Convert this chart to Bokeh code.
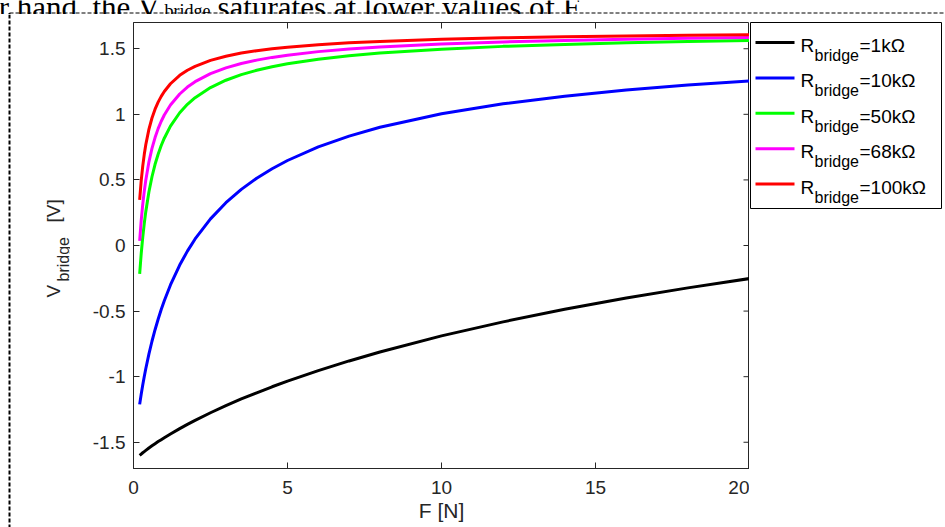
import math
from bokeh.plotting import figure
from bokeh.models import Range1d, FixedTicker, NumeralTickFormatter
from bokeh.layouts import row, column
from bokeh.embed import file_html
from bokeh.resources import INLINE
from bokeh.core.properties import value

# ---------------- data ----------------
force_N = [0.2, 0.25, 0.3, 0.35, 0.4, 0.5, 0.6, 0.7, 0.8, 0.9,
           1, 1.2, 1.5, 1.75, 2, 2.5, 3, 3.5, 4, 4.5,
           5, 6, 7, 8, 10, 12, 14, 16, 18, 20]
v_1k = [-1.600, -1.590, -1.580, -1.571, -1.562, -1.544, -1.527, -1.511, -1.495, -1.480,
        -1.465, -1.437, -1.396, -1.364, -1.333, -1.275, -1.221, -1.170, -1.123, -1.077,
        -1.034, -0.954, -0.880, -0.812, -0.689, -0.582, -0.486, -0.400, -0.323, -0.252]
v_10k = [-1.211, -1.134, -1.064, -0.999, -0.938, -0.828, -0.730, -0.642, -0.562, -0.488,
         -0.421, -0.301, -0.149, -0.043, 0.050, 0.203, 0.326, 0.428, 0.513, 0.585,
         0.648, 0.752, 0.834, 0.901, 1.004, 1.080, 1.138, 1.185, 1.223, 1.255]
v_50k = [-0.217, -0.063, 0.063, 0.169, 0.260, 0.408, 0.524, 0.619, 0.696, 0.762,
         0.818, 0.910, 1.012, 1.076, 1.127, 1.204, 1.260, 1.303, 1.336, 1.363,
         1.385, 1.420, 1.446, 1.467, 1.497, 1.518, 1.533, 1.545, 1.555, 1.563]
v_68k = [0.036, 0.190, 0.313, 0.414, 0.500, 0.636, 0.740, 0.823, 0.891, 0.947,
         0.995, 1.071, 1.155, 1.208, 1.249, 1.310, 1.354, 1.387, 1.413, 1.434,
         1.451, 1.478, 1.498, 1.513, 1.536, 1.552, 1.563, 1.572, 1.579, 1.585]
v_100k = [0.348, 0.493, 0.605, 0.695, 0.770, 0.885, 0.972, 1.039, 1.093, 1.137,
          1.174, 1.233, 1.297, 1.336, 1.366, 1.411, 1.443, 1.467, 1.485, 1.500,
          1.512, 1.531, 1.545, 1.556, 1.572, 1.583, 1.591, 1.597, 1.602, 1.606]

series = [v_1k, v_10k, v_50k, v_68k, v_100k]
legend_values = ["=1k\u03a9", "=10k\u03a9", "=50k\u03a9", "=68k\u03a9", "=100k\u03a9"]
colors = ["#000000", "#0000FF", "#00FF00", "#FF00FF", "#FF0000"]

x_ticks = [0, 5, 10, 15, 20]
y_ticks = [-1.5, -1, -0.5, 0, 0.5, 1, 1.5]
x_min, x_max = 0, 20
y_min, y_max = -1.7, 1.7

caption_parts = ["er hand, the V", "bridge", "saturates at lower values of F."]

# ---------------- layout constants (pixels) ----------------
FONT = "Liberation Sans"
SERIF = "Liberation Serif"
AX = "#262626"
PAGE_W, PAGE_H = 945, 527
STRIP_H = 14
BODY_H = PAGE_H - STRIP_H
YLAB_W = 70
FRAME_W, FRAME_H = 616, 446
LEFT = 63
TOP = 8
TICK = 6


def bare(fig):
    fig.grid.visible = False
    fig.outline_line_color = None
    fig.border_fill_color = "white"
    fig.background_fill_color = "white"
    return fig


# ---- top strip: caption remnant + dashed page frame ----
strip = bare(figure(width=PAGE_W, height=STRIP_H, x_range=Range1d(0, PAGE_W),
                    y_range=Range1d(STRIP_H, 0), min_border=0,
                    x_axis_location=None, y_axis_location=None, frame_align=False,
                    output_backend="svg", toolbar_location=None))
strip.text(x=[160], y=[7], text=[caption_parts[0]], text_font=value(SERIF),
           text_font_size="31px", text_align="right", text_baseline="alphabetic",
           text_color="black")
strip.text(x=[164], y=[10], text=[caption_parts[1]], text_font=value(SERIF),
           text_font_size="18px", text_align="left", text_baseline="alphabetic",
           text_color="black")
strip.text(x=[217], y=[7], text=[caption_parts[2]], text_font=value(SERIF),
           text_font_size="31px", text_align="left", text_baseline="alphabetic",
           text_color="black")
strip.segment(x0=[9], y0=[12.5], x1=[PAGE_W], y1=[12.5], line_color="black",
              line_width=1, line_dash="4 2")
strip.segment(x0=[9], y0=[12.5], x1=[9], y1=[STRIP_H], line_color="black",
              line_width=2, line_dash="4 2")

# ---- y label panel ----
ylab = bare(figure(width=YLAB_W, height=BODY_H, x_range=Range1d(0, YLAB_W),
                   y_range=Range1d(PAGE_H, STRIP_H), min_border=0, frame_align=False,
                   x_axis_location=None, y_axis_location=None,
                   output_backend="svg", toolbar_location=None))
ylab.segment(x0=[9], y0=[STRIP_H], x1=[9], y1=[PAGE_H], line_color="black",
             line_width=2, line_dash="4 2")
ylab.text(x=[52.5], y=[297], text=["V"], angle=math.pi / 2, text_font=value(FONT),
          text_font_size="19px", text_color=AX, text_baseline="alphabetic")
ylab.text(x=[63], y=[281], text=["bridge"], angle=math.pi / 2, text_font=value(FONT),
          text_font_size="16px", text_color=AX, text_baseline="alphabetic")
ylab.text(x=[52.5], y=[222], text=["[V]"], angle=math.pi / 2, text_font=value(FONT),
          text_font_size="19px", text_color=AX, text_baseline="alphabetic")

# ---- main plot ----
p = figure(frame_width=FRAME_W, frame_height=FRAME_H, height=BODY_H,
           x_range=Range1d(x_min, x_max), y_range=Range1d(y_min, y_max),
           min_border_left=LEFT, min_border_right=0, min_border_top=TOP,
           min_border_bottom=BODY_H - TOP - FRAME_H, frame_align=False,
           output_backend="svg", toolbar_location=None,
           outline_line_color=AX, outline_line_width=1)
p.grid.visible = False
for ax in (p.xaxis[0], p.yaxis[0]):
    ax.major_tick_in = TICK
    ax.major_tick_out = 0
    ax.minor_tick_line_color = None
    ax.axis_line_color = AX
    ax.major_tick_line_color = AX
    ax.major_label_text_font = FONT
    ax.major_label_text_font_size = "19px"
    ax.major_label_text_color = AX
p.xaxis[0].ticker = FixedTicker(ticks=x_ticks)
p.yaxis[0].ticker = FixedTicker(ticks=y_ticks)
p.xaxis[0].formatter = NumeralTickFormatter(format="0.[0]")
p.yaxis[0].formatter = NumeralTickFormatter(format="0.[0]")
p.xaxis[0].major_label_standoff = 12
p.yaxis[0].major_label_standoff = 8
p.xaxis[0].axis_label = "F [N]"
p.xaxis[0].axis_label_text_font = FONT
p.xaxis[0].axis_label_text_font_size = "21px"
p.xaxis[0].axis_label_text_font_style = "normal"
p.xaxis[0].axis_label_text_color = AX
p.xaxis[0].axis_label_standoff = 2

# inward ticks on the top and right edges of the box
dx_px = (x_max - x_min) / FRAME_W
dy_px = (y_max - y_min) / FRAME_H
p.segment(x0=x_ticks, x1=x_ticks, y0=[y_max] * len(x_ticks),
          y1=[y_max - TICK * dy_px] * len(x_ticks), line_color=AX, line_width=1)
p.segment(x0=[x_max] * len(y_ticks), x1=[x_max - TICK * dx_px] * len(y_ticks),
          y0=y_ticks, y1=y_ticks, line_color=AX, line_width=1)

for vals, c in zip(series, colors):
    p.line(force_N, vals, line_color=c, line_width=3)

# ---- legend panel ----
LW, LH = 192, 186
leg = figure(width=LW + 1, height=BODY_H, x_range=Range1d(0, LW), y_range=Range1d(LH, 0),
             min_border_left=1, min_border_right=0, min_border_top=TOP,
             min_border_bottom=BODY_H - TOP - LH, x_axis_location=None,
             y_axis_location=None, frame_align=False,
             output_backend="svg", toolbar_location=None,
             outline_line_color="black", outline_line_width=1)
leg.grid.visible = False
rows_y = [20 + i * 35.4 for i in range(len(colors))]
leg.segment(x0=[5] * 5, x1=[44] * 5, y0=rows_y, y1=rows_y, line_color=colors, line_width=3)
leg.text(x=[50] * 5, y=[r + 3 for r in rows_y], text=["R"] * 5,
         text_font=value(FONT), text_font_size="19px", text_color="black",
         text_baseline="alphabetic")
leg.text(x=[64] * 5, y=[r + 13 for r in rows_y], text=["bridge"] * 5,
         text_font=value(FONT), text_font_size="16px", text_color="black",
         text_baseline="alphabetic")
leg.text(x=[109] * 5, y=[r + 3 for r in rows_y], text=legend_values,
         text_font=value(FONT), text_font_size="19px", text_color="black",
         text_baseline="alphabetic")

layout = column(strip, row(ylab, p, leg))
open("out.html", "w").write(file_html(layout, INLINE))
